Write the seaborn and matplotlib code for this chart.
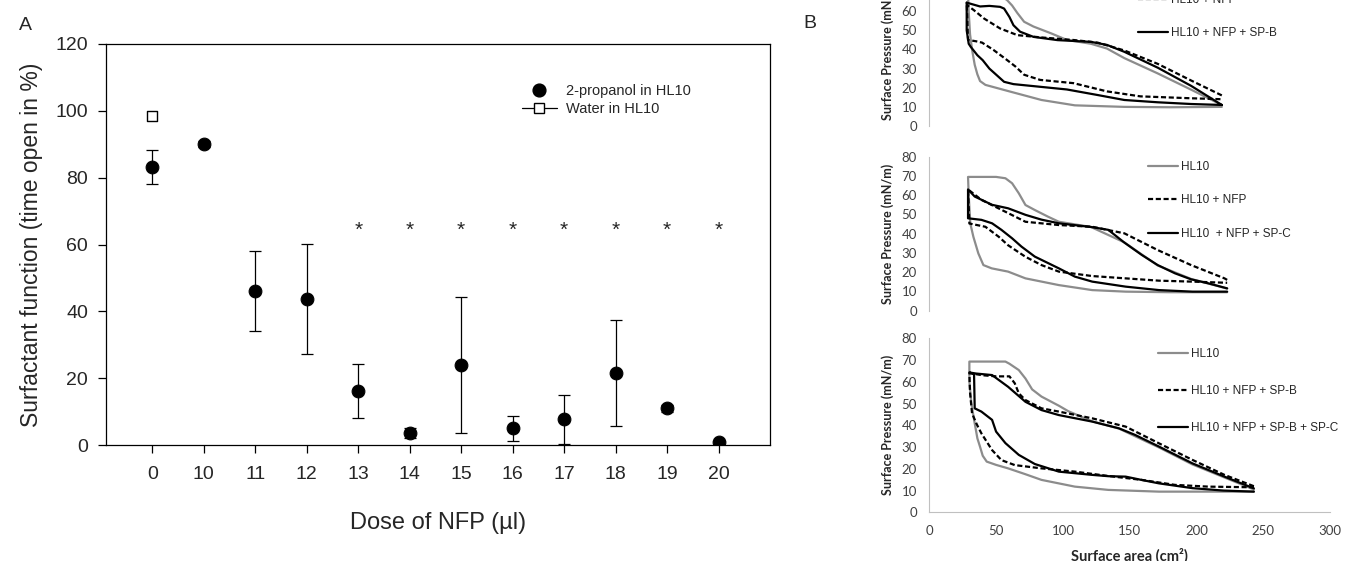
import matplotlib
matplotlib.use("Agg")
import numpy as np
import matplotlib.pyplot as plt
from matplotlib.lines import Line2D
import seaborn as sns

# --- Panel A: surfactant function vs dose of NFP ---
doses = ["0", "10", "11", "12", "13", "14", "15", "16", "17", "18", "19", "20"]
propanol_mean = [83.3, 90.1, 46.0, 43.7, 16.2, 3.6, 23.9, 5.0, 7.7, 21.6, 11.0, 0.8]
propanol_sd = [5.1, 0.8, 12.0, 16.5, 8.0, 1.5, 20.3, 3.7, 7.3, 15.8, 1.0, 0.5]
water_doses = ["0"]
water_mean = [98.6]
signif_doses = ["13", "14", "15", "16", "17", "18", "19", "20"]

# --- Panel B: surface pressure / area loops (area in cm2, pressure in mN/m) ---
# top: HL10, HL10 + NFP, HL10 + NFP + SP-B
b1_hl10_area = [219, 196, 171, 146, 133, 121, 103, 91, 78, 71, 66, 62, 58, 50, 40, 29,
                29.5, 30.5, 32, 34, 36, 38, 42, 61, 84, 109, 146, 180, 219]
b1_hl10_press = [11, 19, 27.5, 35.5, 40.5, 43, 45, 48.5, 52, 54.5, 59, 63, 66, 69, 69.5, 69.5,
                 60, 48, 40, 32, 27, 23.5, 21.5, 17.9, 13.6, 10.8, 10, 9.8, 10]
b1_nfp_area = [219, 196, 171, 146, 126, 109, 84, 66, 53, 41, 33.5, 28.5, 28,
               29, 35, 39.5, 48, 58, 64.5, 71, 83, 108, 133, 158, 196, 219]
b1_nfp_press = [16, 23.8, 32.5, 39.5, 43.6, 44.9, 46.3, 47.5, 51, 56.2, 60.5, 63.1, 64.5,
                45, 44.3, 43.6, 39.8, 34.6, 31.1, 26.8, 24.1, 22.4, 18.1, 15.5, 14.5, 14]
b1_spb_area = [219, 196, 171, 146, 133, 121, 96, 78, 68, 63, 60, 56, 53, 45, 38, 28,
               28, 29.5, 31, 36, 40, 45, 49, 56, 63, 83, 103, 126, 146, 171, 196, 219]
b1_spb_press = [11, 21, 30.5, 38.8, 42.4, 44, 44.9, 46.6, 49.3, 52.7, 57, 61.4, 62.3, 62.8, 62.5, 64.5,
                50, 43, 41.4, 37, 34.4, 30, 27.5, 23.1, 21.9, 20.5, 19.1, 16.2, 13.6, 12.4, 11.5, 11]

# middle: HL10, HL10 + NFP, HL10 + NFP + SP-C
b2_hl10_area = [223, 196, 171, 146, 121, 97, 89, 79, 72, 67, 62, 57, 50, 40, 29,
                29.5, 30.7, 33, 36.7, 40.5, 46.7, 59, 72, 97, 122, 147, 180, 223]
b2_hl10_press = [11.5, 16.5, 23.5, 35.5, 43.5, 46.2, 48.8, 52.3, 54.9, 61, 66.2, 68.8, 69.5, 69.5, 69.5,
                 60, 45.3, 38.4, 29.8, 23.7, 22, 20.3, 16.8, 13.3, 10.7, 9.9, 9.6, 9.6]
b2_nfp_area = [223, 221, 196, 171, 146, 122, 97, 72, 59, 39, 29,
               30, 42, 52, 59, 72, 84, 97, 122, 147, 172, 197, 223]
b2_nfp_press = [16, 16.8, 23.7, 31.5, 40.2, 43.6, 44.5, 46.2, 50.7, 57.6, 63,
                45.3, 43.6, 38.4, 34, 28, 23.7, 20.3, 18, 16.8, 15.6, 15.1, 14.5]
b2_spc_area = [223, 209, 196, 184, 171, 159, 146, 134, 122, 97, 84, 72, 59, 47, 34, 29,
               29, 39, 47, 54, 62, 69, 79, 97, 109, 122, 147, 172, 197, 223]
b2_spc_press = [11.6, 14.2, 16.3, 19.4, 23.7, 29, 35.4, 42, 43.4, 45.4, 47.3, 49.8, 53.2, 55, 59.3, 63,
                48, 47.2, 45.4, 42, 37.6, 33.3, 28.1, 22, 17.7, 15.1, 12.5, 10.7, 9.9, 9.9]

# bottom: HL10, HL10 + NFP + SP-B, HL10 + NFP + SP-B + SP-C
b3_hl10_area = [243, 221, 197, 172, 154, 142, 122, 104, 97, 84, 77, 72, 67, 60, 57, 30,
                30, 31.5, 34, 36, 38, 40, 43, 50, 59, 72, 84, 109, 134, 172, 243]
b3_hl10_press = [10.5, 16, 22, 29.8, 35, 38.5, 41.8, 46.5, 49, 53.2, 56.5, 61.5, 65.4, 68.3, 69.3, 69.3,
                 60, 50, 40.9, 34, 30.1, 26, 23.3, 21.8, 20.2, 17.5, 14.9, 11.8, 10.3, 9.5, 9.5]
b3_spb_area = [243, 221, 197, 172, 147, 122, 97, 84, 72, 67, 64, 60, 50, 40, 30,
               30.5, 32, 35.5, 39, 47, 54, 64, 84, 109, 134, 159, 184, 209, 243]
b3_spb_press = [12, 17.2, 24.1, 31.7, 39.4, 43.2, 46.3, 47.8, 51.6, 54.7, 59.3, 62.5, 62.5, 63, 64,
                55, 45.5, 40.5, 36.3, 28.6, 24, 21.7, 20.2, 18.7, 16.7, 14.9, 12.6, 11.8, 11.5]
b3_spbc_area = [243, 221, 197, 172, 154, 142, 122, 97, 84, 72, 59, 47, 35, 30,
                33.5, 34, 39, 47, 50, 57, 67, 79, 97, 122, 134, 147, 158, 172, 197, 220, 243]
b3_spbc_press = [11, 16.4, 22.5, 30.2, 35.6, 38.6, 41.7, 44.7, 47, 50.8, 57.7, 63.1, 63.8, 64.3,
                 63.5, 47.8, 46.3, 42.5, 37.1, 31.8, 26.4, 22.2, 18.7, 17.2, 16.6, 16.4, 15, 13.3, 11.1, 10, 9.5]

GRAY = "#8c8c8c"
DASH = (0, (2.3, 1.2))

sns.set_style("ticks")
plt.rcParams["font.family"] = ["Liberation Sans", "DejaVu Sans"]

fig = plt.figure(figsize=(13.5, 5.61), dpi=100)

# ================= Panel A =================
ax_a = fig.add_axes([106 / 1350, 1 - 445 / 561, 664 / 1350, 401 / 561])
pos = {d: i for i, d in enumerate(doses)}
x_prop = [pos[d] for d in doses]

ax_a.errorbar(x_prop, propanol_mean, yerr=propanol_sd, fmt="none", ecolor="black",
              elinewidth=0.9, capsize=4.3, capthick=0.9, zorder=2)
sns.scatterplot(x=x_prop, y=propanol_mean, ax=ax_a, color="black", edgecolor="black",
                s=85, marker="o", zorder=3, legend=False)
sns.scatterplot(x=[pos[d] for d in water_doses], y=water_mean, ax=ax_a, color="white",
                edgecolor="black", linewidth=1, s=52, marker="s", zorder=3, legend=False)

for d in signif_doses:
    ax_a.text(pos[d], 64.2, "*", ha="center", va="center", fontsize=15)

ax_a.set_xlim(-0.9, 12.0)
ax_a.set_ylim(0, 120)
ax_a.set_xticks(x_prop, doses)
ax_a.set_yticks(range(0, 121, 20))
ax_a.tick_params(axis="both", direction="out", length=6, width=0.9, labelsize=14, color="black")
ax_a.tick_params(axis="x", pad=9)
ax_a.tick_params(axis="y", pad=7)
for s in ax_a.spines.values():
    s.set_linewidth(0.9)
    s.set_color("black")
ax_a.set_xlabel("Dose of NFP (µl)", fontsize=17, labelpad=21)
ax_a.set_ylabel("Surfactant function (time open in %)", fontsize=16.5, labelpad=9)

leg_handles = [
    Line2D([], [], marker="o", color="black", linestyle="none", markersize=9.2),
    Line2D([], [], marker="s", color="black", markerfacecolor="white", markersize=7.2, linewidth=0.9),
]
ax_a.legend(leg_handles, ["2-propanol in HL10", "Water in HL10"], loc="upper left",
            bbox_to_anchor=(0.6265, 0.9), frameon=False, fontsize=10.5, handlelength=2.4,
            handletextpad=0.6, labelspacing=0.3, borderpad=0, borderaxespad=0)

fig.text(25 / 1350, 1 - 25 / 561, "A", ha="center", va="center", fontsize=14)
fig.text(810 / 1350, 1 - 24 / 561, "B", ha="center", va="center", fontsize=14)

# ================= Panel B =================
b_left, b_width = 929.3 / 1350, 400.7 / 1350
ax_b1 = fig.add_axes([b_left, 1 - 126 / 561, b_width, 153 / 561])
ax_b2 = fig.add_axes([b_left, 1 - 310.7 / 561, b_width, 154 / 561])
ax_b3 = fig.add_axes([b_left, 1 - 512.3 / 561, b_width, 174 / 561])

panels = [
    (ax_b1, [(b1_hl10_area, b1_hl10_press, GRAY, "-"),
             (b1_nfp_area, b1_nfp_press, "black", DASH),
             (b1_spb_area, b1_spb_press, "black", "-")],
     ["HL10", "HL10 + NFP", "HL10 + NFP + SP-B"], (0.521, 0.822), 1.8),
    (ax_b2, [(b2_hl10_area, b2_hl10_press, GRAY, "-"),
             (b2_nfp_area, b2_nfp_press, "black", DASH),
             (b2_spc_area, b2_spc_press, "black", "-")],
     ["HL10", "HL10 + NFP", "HL10  + NFP + SP-C"], (0.546, 0.716), 1.8),
    (ax_b3, [(b3_hl10_area, b3_hl10_press, GRAY, "-"),
             (b3_spb_area, b3_spb_press, "black", DASH),
             (b3_spbc_area, b3_spbc_press, "black", "-")],
     ["HL10", "HL10 + NFP + SP-B", "HL10 + NFP + SP-B + SP-C"], (0.571, 0.697), 2.1),
]

for ax, curves, labels, anchor, spacing in panels:
    handles = []
    for area, press, col, ls in curves:
        sns.lineplot(x=area, y=press, sort=False, estimator=None, color=col,
                     linewidth=1.6, linestyle=ls, ax=ax)
        handles.append(Line2D([], [], color=col, linewidth=1.6, linestyle=ls))
    ax.set_xlim(0, 300)
    ax.set_ylim(0, 80)
    ax.set_yticks(range(0, 81, 10))
    ax.tick_params(axis="both", length=0, labelsize=9.5, labelcolor="#404040", pad=9)
    for lab in ax.get_yticklabels() + ax.get_xticklabels():
        lab.set_fontfamily("Lato")
    ax.spines["top"].set_visible(False)
    ax.spines["right"].set_visible(False)
    ax.spines["left"].set_color("#c0c0c0")
    ax.spines["bottom"].set_color("#c0c0c0")
    ax.set_ylabel("Surface Pressure (mN/m)", fontsize=9, fontweight="bold",
                  fontfamily="Lato", color="#262626", labelpad=5)
    ax.legend(handles, labels, loc="center left", bbox_to_anchor=anchor, frameon=False,
              fontsize=8.5, handlelength=2.5, handletextpad=0.25, labelspacing=spacing,
              borderpad=0, borderaxespad=0)
    ax.set_facecolor("none")

for ax in (ax_b1, ax_b2):
    ax.spines["bottom"].set_visible(False)
    ax.set_xticks([])
    ax.set_xlabel("")

ax_b3.set_xticks(range(0, 301, 50))
for lab in ax_b3.get_xticklabels():
    lab.set_fontfamily("Lato")
ax_b3.set_xlabel("Surface area (cm²)", fontsize=10.5, fontweight="bold",
                 fontfamily="Lato", color="#262626", labelpad=8)

fig.savefig("out.png", dpi=100)
